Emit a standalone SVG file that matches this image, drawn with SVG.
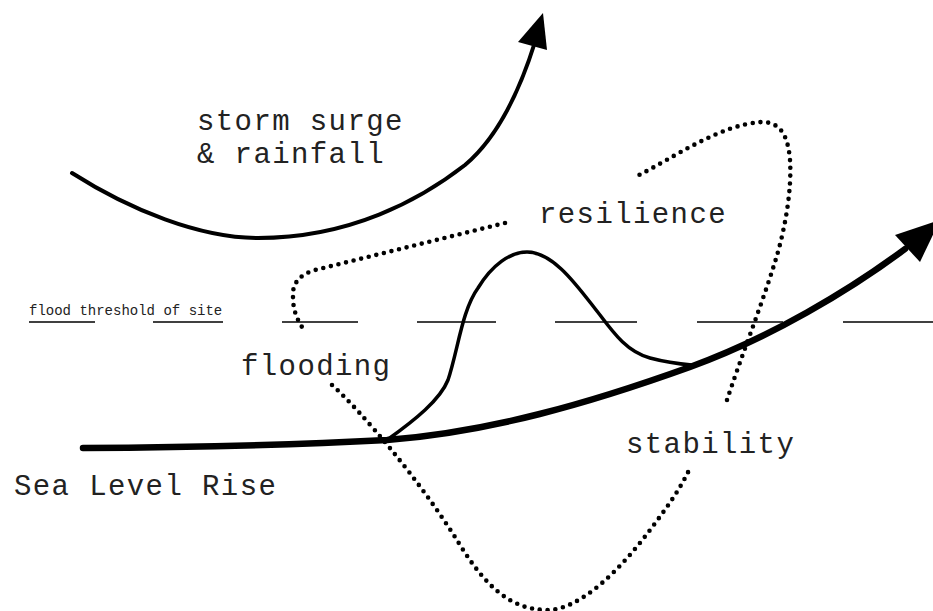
<svg xmlns="http://www.w3.org/2000/svg" width="933" height="611" viewBox="0 0 933 611">
  <defs>
    <linearGradient id="fade" gradientUnits="userSpaceOnUse" x1="70" y1="172" x2="125" y2="206">
      <stop offset="0" stop-color="#d8d8d8"/>
      <stop offset="1" stop-color="#000"/>
    </linearGradient>
    <style>
      .lbl { font-family: "Liberation Mono", "DejaVu Sans Mono", monospace; font-size: 29px; letter-spacing: 1.4px; fill: #222; }
      .small { font-family: "Liberation Mono", "DejaVu Sans Mono", monospace; font-size: 14px; fill: #222; }
      .dots { fill: none; stroke: #000; stroke-width: 4.6; stroke-linecap: round; stroke-dasharray: 0 7.8; }
      .thr { stroke: #000; stroke-width: 1.5; }
      .solid { fill: none; stroke: #000; stroke-linecap: round; }
    </style>
  </defs>
  <rect width="933" height="611" fill="#fff"/>

  <g id="connectors">
    <!-- flood threshold dashed line -->
    <g id="threshold">
      <line class="thr" x1="29" y1="322" x2="95" y2="322"/>
      <line class="thr" x1="153" y1="322" x2="223" y2="322"/>
      <line class="thr" x1="282" y1="322" x2="358" y2="322"/>
      <line class="thr" x1="417" y1="322" x2="496" y2="322"/>
      <line class="thr" x1="555" y1="322" x2="637" y2="322"/>
      <line class="thr" x1="697" y1="322" x2="783" y2="322"/>
      <line class="thr" x1="843" y1="322" x2="933" y2="322"/>
    </g>
    <!-- storm surge arrow -->
    <path class="solid" stroke="url(#fade)" stroke-width="4" d="M72,173 C130,210 200,238 258,238 C350,238 420,200 465,165 C497,138 520,90 535,42"/>
    <polygon points="543,13 518,42 547,50" fill="#000"/>
    <!-- dotted path -->
    <path class="dots" d="M505,223 L315,270 C298,275 292,285 293,297 C293,310 297,320 304,330"/>
    <path class="dots" d="M332,385 C360,410 420,480 460,545 C485,585 510,610 547,610 C580,610 620,570 650,530 C665,510 680,490 690,468"/>
    <path class="dots" d="M727,400 C740,360 760,310 775,262 C785,230 792,190 790,160 C788,135 780,122 762,122 C720,124 670,160 637,176"/>
    <!-- flooding bump -->
    <path class="solid" stroke-width="3.5" d="M387,440 C415,420 440,400 448,380 C458,350 462,310 478,288 C492,265 510,252 527,252 C555,252 580,290 600,315 C615,335 628,352 650,358 C665,362 680,364 692,365"/>
    <!-- sea level rise arrow -->
    <path class="solid" stroke-width="6.5" d="M83,448 C250,447 330,443 387,440 C490,432 590,403 690,367 C770,338 850,290 905,249"/>
    <polygon points="940,220 895,235 920,262" fill="#000"/>
  </g>

  <g id="node-threshold-label"><text class="small" x="29" y="315">flood threshold of site</text></g>
  <g id="node-storm"><text class="lbl" x="197" y="130">storm surge</text><text class="lbl" x="197" y="163">&amp; rainfall</text></g>
  <g id="node-resilience"><text class="lbl" x="539" y="223">resilience</text></g>
  <g id="node-flooding"><text class="lbl" x="241" y="375">flooding</text></g>
  <g id="node-stability"><text class="lbl" x="626" y="453">stability</text></g>
  <g id="node-slr"><text class="lbl" x="14" y="495">Sea Level Rise</text></g>
</svg>
